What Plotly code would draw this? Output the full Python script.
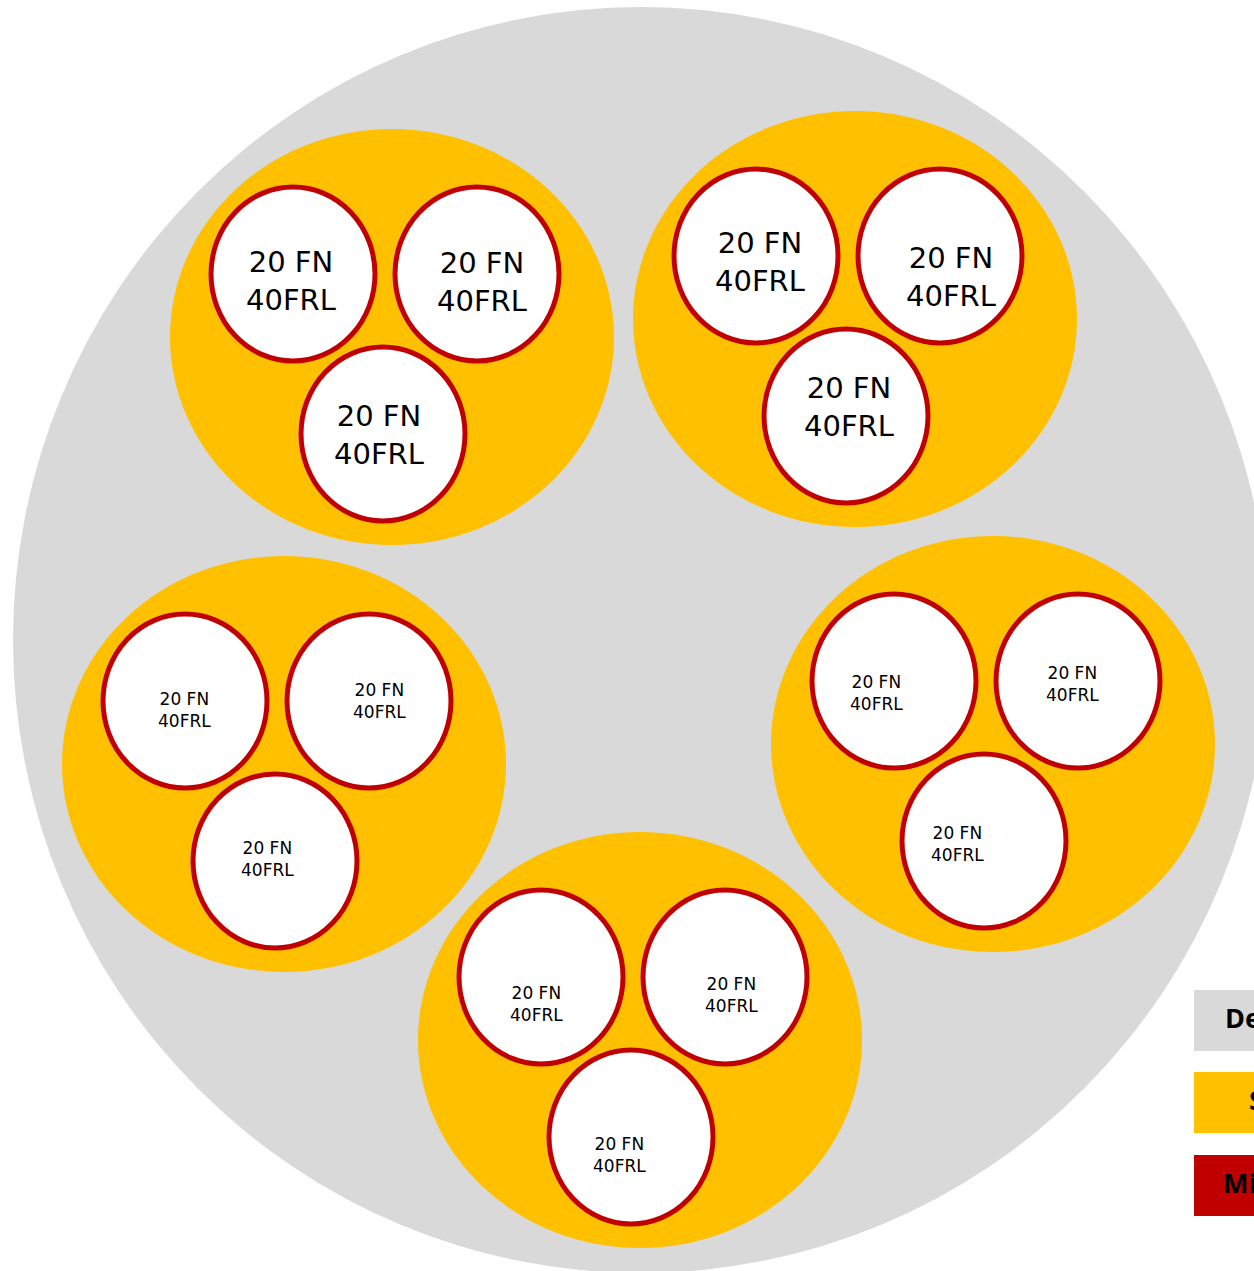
import plotly.graph_objects as go

W, H = 1254, 1271

# Outer area (grey)
outer_center = (641, 640)
outer_radius = (628, 633)

# Groups (yellow) – centres and radii
group_cx = [392, 855, 284, 993, 640]
group_cy = [337, 319, 764, 744, 1040]
group_rx = 222
group_ry = 208
group_font = [29, 29, 17, 17, 17]

# Members (white circles with red outline) – offsets from group centre
member_dx = [-99, 85, -9]
member_dy = [-63, -63, 97]
member_rx = 82
member_ry = 87

# Member labels
member_label = "20 FN<br>40FRL"
label_dx = [[-2, 5, -4], [4, 11, 3], [-1, 10, -8], [-18, -6, -27], [-5, 6, -12]]
label_dy = [[7, 8, 1], [6, 21, -9], [9, 0, -2], [12, 3, 3], [27, 18, 18]]

# Legend
legend_names = ["Deployment Area", "Service Area", "Micro Area"]
legend_colors = ["#D9D9D9", "#FFC000", "#C00000"]
legend_top = [990, 1072, 1155]
legend_text_x = [1223, 1247, 1221]

GREY, YELLOW, RED = "#D9D9D9", "#FFC000", "#C00000"

fig = go.Figure()
shapes = []
annotations = []

shapes.append(dict(type="circle", xref="x", yref="y",
                   x0=outer_center[0] - outer_radius[0], x1=outer_center[0] + outer_radius[0],
                   y0=outer_center[1] - outer_radius[1], y1=outer_center[1] + outer_radius[1],
                   fillcolor=GREY, line=dict(width=0), layer="below"))

for g in range(len(group_cx)):
    cx, cy = group_cx[g], group_cy[g]
    shapes.append(dict(type="circle", xref="x", yref="y",
                       x0=cx - group_rx, x1=cx + group_rx,
                       y0=cy - group_ry, y1=cy + group_ry,
                       fillcolor=YELLOW, line=dict(width=0), layer="below"))
    for m in range(3):
        mx, my = cx + member_dx[m], cy + member_dy[m]
        shapes.append(dict(type="circle", xref="x", yref="y",
                           x0=mx - member_rx, x1=mx + member_rx,
                           y0=my - member_ry, y1=my + member_ry,
                           fillcolor="white", line=dict(color=RED, width=5), layer="below"))
        annotations.append(dict(x=mx + label_dx[g][m], y=my + label_dy[g][m],
                                xref="x", yref="y", text=member_label, showarrow=False,
                                xanchor="center", yanchor="middle", align="center",
                                font=dict(family="DejaVu Sans", size=group_font[g], color="black")))

for i, name in enumerate(legend_names):
    shapes.append(dict(type="rect", xref="x", yref="y",
                       x0=1194, x1=1400, y0=legend_top[i], y1=legend_top[i] + 61,
                       fillcolor=legend_colors[i], line=dict(width=0), layer="below"))
    annotations.append(dict(x=legend_text_x[i], y=legend_top[i] + 27, xref="x", yref="y",
                            text="<b>" + name + "</b>", showarrow=False,
                            xanchor="left", yanchor="middle",
                            font=dict(family="Open Sans", size=27, color="black")))

fig.update_layout(
    width=W, height=H,
    margin=dict(l=0, r=0, t=0, b=0),
    paper_bgcolor="white", plot_bgcolor="white",
    xaxis=dict(range=[0, W], visible=False, fixedrange=True),
    yaxis=dict(range=[H, 0], visible=False, fixedrange=True),
    shapes=shapes, annotations=annotations, showlegend=False,
)
fig.add_trace(go.Scatter(x=[], y=[]))

fig.write_html("out.html", config={"displayModeBar": False},
               post_script="document.body.style.margin='0';document.body.style.overflow='hidden';")
